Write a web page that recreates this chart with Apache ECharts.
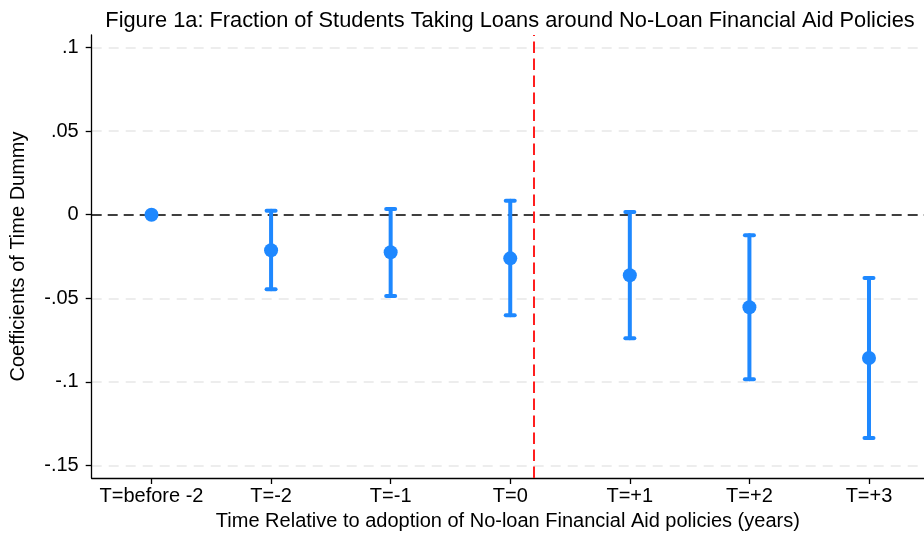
<!DOCTYPE html>
<html>
<head>
<meta charset="utf-8">
<script src="https://cdn.jsdelivr.net/npm/echarts@6/dist/echarts.min.js"></script>
<style>
  html, body { margin: 0; padding: 0; background: #fff; }
  #chart { width: 924px; height: 539px; }
</style>
</head>
<body>
<div id="chart"></div>
<script>
// Event-study coefficients with 95% confidence intervals
const categories = ['T=before -2', 'T=-2', 'T=-1', 'T=0', 'T=+1', 'T=+2', 'T=+3'];
const coef   = [0, -0.0213, -0.0225, -0.0261, -0.0362, -0.0554, -0.0857];
const ciLow  = [0, -0.0446, -0.0486, -0.0602, -0.0739, -0.0984, -0.1336];
const ciHigh = [0,  0.0024,  0.0034,  0.0084,  0.0016, -0.0123, -0.0379];
const yTicks = [0.1, 0.05, 0, -0.05, -0.1, -0.15];
const policyLine = 3.2;

const blue = '#1E88FF';
const font = 'Liberation Sans, Arial, sans-serif';

function fmtTick(v) {
  const r = Math.round(v * 1000) / 1000;
  if (r === 0) return '0';
  return String(r).replace('0.', '.');
}

const xIdx = categories.map((_, i) => i);
const points = xIdx.map(i => [i, coef[i]]);
const bars = xIdx.filter(i => ciLow[i] !== ciHigh[i]).map(i => [i, ciLow[i], ciHigh[i]]);

const chart = echarts.init(document.getElementById('chart'), null, { renderer: 'canvas' });
chart.setOption({
  animation: false,
  backgroundColor: '#fff',
  title: {
    text: 'Figure 1a: Fraction of Students Taking Loans around No-Loan Financial Aid Policies',
    left: 505, top: 5, textAlign: 'center',
    textStyle: { fontFamily: font, fontSize: 21.8, fontWeight: 'normal', color: '#000' }
  },
  grid: { left: 91.7, top: 35, right: 0, bottom: 61, containLabel: false, outerBoundsMode: 'none' },
  xAxis: {
    type: 'value', min: -0.5, max: 6.46,
    name: 'Time Relative to adoption of No-loan Financial Aid policies (years)',
    nameLocation: 'middle', nameGap: 33,
    nameTextStyle: { fontFamily: font, fontSize: 20, color: '#000' },
    axisLine: { show: true, onZero: false, lineStyle: { color: '#000', width: 1.3 } },
    axisTick: { show: true, length: 6, customValues: xIdx, lineStyle: { color: '#000', width: 1.3 } },
    axisLabel: {
      customValues: xIdx, margin: 8,
      formatter: v => categories[Math.round(v)],
      fontFamily: font, fontSize: 20, color: '#000'
    },
    splitLine: { show: false }
  },
  yAxis: {
    type: 'value', min: -0.1575, max: 0.1075,
    name: 'Coefficients of Time Dummy',
    nameLocation: 'middle', nameGap: 63, nameRotate: 90,
    nameTextStyle: { fontFamily: font, fontSize: 20, color: '#000' },
    axisLine: { show: true, onZero: false, lineStyle: { color: '#000', width: 1.3 } },
    axisTick: { show: true, length: 6, customValues: yTicks, lineStyle: { color: '#000', width: 1.3 } },
    axisLabel: {
      customValues: yTicks, margin: 13,
      formatter: fmtTick,
      fontFamily: font, fontSize: 20, color: '#000'
    },
    splitLine: { show: false }
  },
  series: [
    {
      // light horizontal reference lines at the labelled ticks
      type: 'line', data: [], silent: true, z: 0,
      markLine: {
        symbol: 'none', silent: true, animation: false, z: 0,
        label: { show: false },
        lineStyle: { color: '#e8e8e8', type: [10, 7], width: 1.6 },
        data: yTicks.filter(v => v !== 0).map(v => ({ yAxis: v }))
      }
    },
    {
      // zero line and policy adoption marker
      type: 'line', data: [], silent: true, z: 1,
      markLine: {
        symbol: 'none', silent: true, animation: false, z: 1,
        label: { show: false },
        data: [
          { yAxis: 0, lineStyle: { color: '#000', type: [10, 6], width: 1.7 } },
          { xAxis: policyLine, lineStyle: { color: '#ff1f1f', type: [11.5, 5.5], width: 2 } }
        ]
      }
    },
    {
      // confidence interval bars with caps
      type: 'custom',
      data: bars,
      z: 10,
      renderItem: (params, api) => {
        const x = api.value(0);
        const lo = api.coord([x, api.value(1)]);
        const hi = api.coord([x, api.value(2)]);
        const cap = 4.5;
        const style = { stroke: blue, lineWidth: 4, lineCap: 'round' };
        return {
          type: 'group',
          children: [
            { type: 'line', shape: { x1: lo[0], y1: lo[1], x2: hi[0], y2: hi[1] }, style },
            { type: 'line', shape: { x1: lo[0] - cap, y1: lo[1], x2: lo[0] + cap, y2: lo[1] }, style },
            { type: 'line', shape: { x1: hi[0] - cap, y1: hi[1], x2: hi[0] + cap, y2: hi[1] }, style }
          ]
        };
      }
    },
    {
      type: 'scatter',
      data: points,
      symbol: 'circle', symbolSize: 14,
      itemStyle: { color: blue, opacity: 1 },
      z: 11
    }
  ]
});
</script>
</body>
</html>
